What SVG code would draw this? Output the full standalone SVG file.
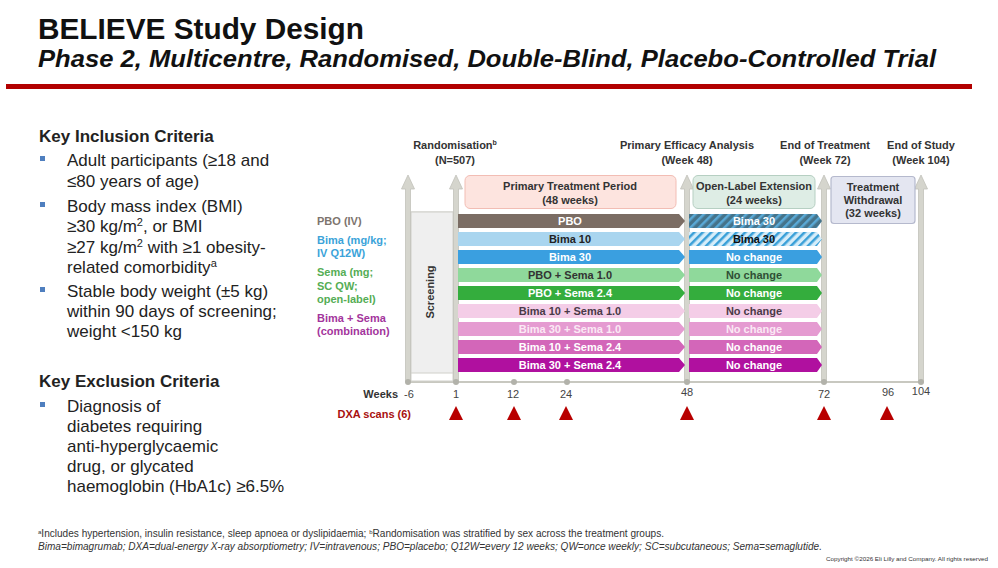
<svg xmlns="http://www.w3.org/2000/svg" width="998" height="568" viewBox="0 0 998 568">
<style>
text{font-family:"Liberation Sans",Arial,sans-serif;}
.t1{font-size:29px;font-weight:bold;fill:#111;}
.t2{font-size:23px;font-weight:bold;font-style:italic;fill:#111;}
.h{font-size:17px;font-weight:bold;fill:#222;}
.b{font-size:17px;fill:#222;}
.lab{font-size:11px;font-weight:bold;fill:#333;}
.red{fill:#a80f0f;}
.grp{font-size:11px;font-weight:bold;}
.bar{font-size:11px;font-weight:bold;text-anchor:middle;}
.w{fill:#fff;}
.num{font-size:11px;fill:#444;text-anchor:middle;}
.fn{font-size:10px;fill:#333;}
.arrow{fill:#d5d5cd;stroke:#c2c2ba;stroke-width:0.8;}
.bul{fill:#4f7fbf;}
.tri{fill:#b80000;}
.dot{fill:#b2b2aa;}
</style>
<defs>
<pattern id="hatchDark" width="6" height="6" patternUnits="userSpaceOnUse" patternTransform="rotate(45)">
<rect width="6" height="6" fill="#45738a"/>
<rect width="2.5" height="6" fill="#5aa9d6"/>
</pattern>
<pattern id="hatchLight" width="6" height="6" patternUnits="userSpaceOnUse" patternTransform="rotate(45)">
<rect width="6" height="6" fill="#d6edf9"/>
<rect width="2.5" height="6" fill="#3aa0d8"/>
</pattern>
</defs>
<rect width="998" height="568" fill="#fff"/>

<!-- Title -->
<g id="title">
<text class="t1" x="38" y="39" textLength="326" lengthAdjust="spacingAndGlyphs">BELIEVE Study Design</text>
<text class="t2" x="38" y="67" textLength="898" lengthAdjust="spacingAndGlyphs">Phase 2, Multicentre, Randomised, Double-Blind, Placebo-Controlled Trial</text>
<rect x="6" y="84" width="966" height="5" fill="#b20000"/>
</g>

<!-- Inclusion criteria -->
<g id="inclusion">
<text class="h" x="39" y="142">Key Inclusion Criteria</text>
<rect class="bul" x="40" y="156" width="5" height="5"/>
<text class="b" x="67" y="166">Adult participants (≥18 and</text>
<text class="b" x="67" y="187">≤80 years of age)</text>
<rect class="bul" x="40" y="202" width="5" height="5"/>
<text class="b" x="67" y="212">Body mass index (BMI)</text>
<text class="b" x="67" y="232">≥30 kg/m<tspan font-size="11" dy="-6">2</tspan><tspan dy="6">, or BMI</tspan></text>
<text class="b" x="67" y="253">≥27 kg/m<tspan font-size="11" dy="-6">2</tspan><tspan dy="6"> with ≥1 obesity-</tspan></text>
<text class="b" x="67" y="273">related comorbidity<tspan font-size="11" dy="-6">a</tspan></text>
<rect class="bul" x="40" y="287" width="5" height="5"/>
<text class="b" x="67" y="297">Stable body weight (±5 kg)</text>
<text class="b" x="67" y="317">within 90 days of screening;</text>
<text class="b" x="67" y="337">weight &lt;150 kg</text>
</g>

<!-- Exclusion criteria -->
<g id="exclusion">
<text class="h" x="39" y="387">Key Exclusion Criteria</text>
<rect class="bul" x="40" y="402" width="5" height="5"/>
<text class="b" x="67" y="412">Diagnosis of</text>
<text class="b" x="67" y="432">diabetes requiring</text>
<text class="b" x="67" y="452">anti-hyperglycaemic</text>
<text class="b" x="67" y="472">drug, or glycated</text>
<text class="b" x="67" y="492">haemoglobin (HbA1c) ≥6.5%</text>
</g>

<!-- Timeline labels -->
<g id="milestones">
<text class="lab" x="455" y="149" text-anchor="middle">Randomisation<tspan font-size="7" dy="-4">b</tspan></text>
<text class="lab" x="455" y="164" text-anchor="middle">(N=507)</text>
<text class="lab" x="687" y="149" text-anchor="middle">Primary Efficacy Analysis</text>
<text class="lab" x="687" y="164" text-anchor="middle">(Week 48)</text>
<text class="lab" x="825" y="149" text-anchor="middle">End of Treatment</text>
<text class="lab" x="825" y="164" text-anchor="middle">(Week 72)</text>
<text class="lab" x="921" y="149" text-anchor="middle">End of Study</text>
<text class="lab" x="921" y="164" text-anchor="middle">(Week 104)</text>
</g>

<!-- Axis -->
<g id="axis">
<line x1="408" y1="382" x2="921" y2="382" stroke="#c8c8c0" stroke-width="2"/>
</g>

<!-- Screening -->
<g id="screening">
<rect x="411" y="212" width="42" height="169" fill="#fff" stroke="#d0d0ca" stroke-width="1"/>
<rect x="411" y="212" width="42" height="161" fill="#efefef" stroke="#d0d0ca" stroke-width="1"/>
<text class="lab" transform="translate(434,292) rotate(-90)" text-anchor="middle">Screening</text>
</g>

<!-- Vertical arrows -->
<g id="connectors">
<path class="arrow" d="M405.5,189 L401.5,189 L408,175 L414.5,189 L410.5,189 L410.5,382 L405.5,382 Z"/>
<path class="arrow" d="M453.5,189 L449.5,189 L456,175 L462.5,189 L458.5,189 L458.5,382 L453.5,382 Z"/>
<path class="arrow" d="M684.5,189 L680.5,189 L687,175 L693.5,189 L689.5,189 L689.5,382 L684.5,382 Z"/>
<path class="arrow" d="M821.5,189 L817.5,189 L824,175 L830.5,189 L826.5,189 L826.5,382 L821.5,382 Z"/>
<path class="arrow" d="M918.5,189 L914.5,189 L921,175 L927.5,189 L923.5,189 L923.5,382 L918.5,382 Z"/>
</g>

<g id="axis-dots">
<circle class="dot" cx="408" cy="382" r="3"/>
<circle class="dot" cx="456" cy="382" r="3"/>
<circle class="dot" cx="514" cy="382" r="3"/>
<circle class="dot" cx="567" cy="382" r="3"/>
<circle class="dot" cx="687" cy="382" r="3"/>
<circle class="dot" cx="824" cy="382" r="3"/>
<circle class="dot" cx="921" cy="382" r="3"/>
</g>

<!-- Period boxes -->
<g id="primary-period">
<rect x="465" y="175.5" width="211" height="33" rx="5" fill="#fde4df" stroke="#f2bdb4" stroke-width="1"/>
<text class="lab" x="570" y="190" text-anchor="middle">Primary Treatment Period</text>
<text class="lab" x="570" y="204" text-anchor="middle">(48 weeks)</text>
</g>
<g id="ole-period">
<rect x="693" y="175.5" width="122" height="33" rx="5" fill="#deede5" stroke="#b6cfc2" stroke-width="1"/>
<text class="lab" x="754" y="190" text-anchor="middle">Open-Label Extension</text>
<text class="lab" x="754" y="204" text-anchor="middle">(24 weeks)</text>
</g>
<g id="withdrawal-period">
<rect x="831" y="176.5" width="84" height="47" rx="3" fill="#e4e6f1" stroke="#b5b9cd" stroke-width="1.2"/>
<text class="lab" x="873" y="191" text-anchor="middle">Treatment</text>
<text class="lab" x="873" y="204" text-anchor="middle">Withdrawal</text>
<text class="lab" x="873" y="217" text-anchor="middle">(32 weeks)</text>
</g>

<!-- Group labels -->
<g id="group-labels">
<text class="grp" x="317" y="225" fill="#7d746e">PBO (IV)</text>
<text class="grp" x="317" y="244" fill="#3ba3d9">Bima (mg/kg;</text>
<text class="grp" x="317" y="257" fill="#3ba3d9">IV Q12W)</text>
<text class="grp" x="317" y="276" fill="#55ad55">Sema (mg;</text>
<text class="grp" x="317" y="290" fill="#55ad55">SC QW;</text>
<text class="grp" x="317" y="303" fill="#55ad55">open-label)</text>
<text class="grp" x="317" y="322" fill="#a3359c">Bima + Sema</text>
<text class="grp" x="317" y="335" fill="#a3359c">(combination)</text>
</g>

<!-- Treatment arms -->
<g id="arm-pbo">
<path d="M458,214 h221 l6,7 l-6,7 h-221 z" fill="#7b6d64"/>
<text class="bar w" x="570" y="225">PBO</text>
<path d="M689,214 h128 l5,7 l-5,7 h-128 z" fill="url(#hatchDark)"/>
<text class="bar w" x="754" y="225">Bima 30</text>
</g>
<g id="arm-bima10">
<path d="M458,232 h221 l6,7 l-6,7 h-221 z" fill="#a9d5ef"/>
<text class="bar" x="570" y="243" fill="#222">Bima 10</text>
<path d="M689,232 h128 l5,7 l-5,7 h-128 z" fill="url(#hatchLight)"/>
<text class="bar" x="754" y="243" fill="#111">Bima 30</text>
</g>
<g id="arm-bima30">
<path d="M458,250 h221 l6,7 l-6,7 h-221 z" fill="#3a9fe0"/>
<text class="bar w" x="570" y="261">Bima 30</text>
<path d="M689,250 h128 l5,7 l-5,7 h-128 z" fill="#3a9fe0"/>
<text class="bar w" x="754" y="261">No change</text>
</g>
<g id="arm-pbo-sema10">
<path d="M458,268 h221 l6,7 l-6,7 h-221 z" fill="#8fd99b"/>
<text class="bar" x="570" y="279" fill="#333">PBO + Sema 1.0</text>
<path d="M689,268 h128 l5,7 l-5,7 h-128 z" fill="#8fd99b"/>
<text class="bar" x="754" y="279" fill="#2f4f35">No change</text>
</g>
<g id="arm-pbo-sema24">
<path d="M458,286 h221 l6,7 l-6,7 h-221 z" fill="#34ad3d"/>
<text class="bar w" x="570" y="297">PBO + Sema 2.4</text>
<path d="M689,286 h128 l5,7 l-5,7 h-128 z" fill="#34ad3d"/>
<text class="bar w" x="754" y="297">No change</text>
</g>
<g id="arm-bima10-sema10">
<path d="M458,304 h221 l6,7 l-6,7 h-221 z" fill="#f4cde7"/>
<text class="bar" x="570" y="315" fill="#4a3a48">Bima 10 + Sema 1.0</text>
<path d="M689,304 h128 l5,7 l-5,7 h-128 z" fill="#f4cde7"/>
<text class="bar" x="754" y="315" fill="#4a3a48">No change</text>
</g>
<g id="arm-bima30-sema10">
<path d="M458,322 h221 l6,7 l-6,7 h-221 z" fill="#e59bd1"/>
<text class="bar" x="570" y="333" fill="#fbe9f5">Bima 30 + Sema 1.0</text>
<path d="M689,322 h128 l5,7 l-5,7 h-128 z" fill="#e59bd1"/>
<text class="bar" x="754" y="333" fill="#fbe9f5">No change</text>
</g>
<g id="arm-bima10-sema24">
<path d="M458,340 h221 l6,7 l-6,7 h-221 z" fill="#d366b9"/>
<text class="bar w" x="570" y="351">Bima 10 + Sema 2.4</text>
<path d="M689,340 h128 l5,7 l-5,7 h-128 z" fill="#d366b9"/>
<text class="bar w" x="754" y="351">No change</text>
</g>
<g id="arm-bima30-sema24">
<path d="M458,358 h221 l6,7 l-6,7 h-221 z" fill="#b0109f"/>
<text class="bar w" x="570" y="369">Bima 30 + Sema 2.4</text>
<path d="M689,358 h128 l5,7 l-5,7 h-128 z" fill="#b0109f"/>
<text class="bar w" x="754" y="369">No change</text>
</g>

<!-- Weeks -->
<g id="weeks">
<text class="lab" x="398" y="398" text-anchor="end">Weeks</text>
<text class="num" x="409" y="398">-6</text>
<text class="num" x="456" y="398">1</text>
<text class="num" x="513" y="398">12</text>
<text class="num" x="566" y="398">24</text>
<text class="num" x="687" y="396">48</text>
<text class="num" x="824" y="398">72</text>
<text class="num" x="888" y="396">96</text>
<text class="num" x="921" y="395">104</text>
</g>

<!-- DXA scans -->
<g id="dxa">
<text class="lab red" x="411" y="418" text-anchor="end">DXA scans (6)</text>
<polygon class="tri" points="449,420 456,406 463,420"/>
<polygon class="tri" points="507,420 514,406 521,420"/>
<polygon class="tri" points="559,420 566,406 573,420"/>
<polygon class="tri" points="680,420 687,406 694,420"/>
<polygon class="tri" points="817,420 824,406 831,420"/>
<polygon class="tri" points="880,420 887,406 894,420"/>
</g>

<!-- Footnotes -->
<g id="footnotes">
<text class="fn" x="38" y="537" textLength="626" lengthAdjust="spacingAndGlyphs"><tspan font-size="6" dy="-3">a</tspan><tspan dy="3">Includes hypertension, insulin resistance, sleep apnoea or dyslipidaemia; </tspan><tspan font-size="6" dy="-3">b</tspan><tspan dy="3">Randomisation was stratified by sex across the treatment groups.</tspan></text>
<text class="fn" x="38" y="550" font-style="italic" textLength="784" lengthAdjust="spacingAndGlyphs">Bima=bimagrumab; DXA=dual-energy X-ray absorptiometry; IV=intravenous; PBO=placebo; Q12W=every 12 weeks; QW=once weekly; SC=subcutaneous; Sema=semaglutide.</text>
<text x="826" y="561" font-size="6" fill="#333" textLength="162" lengthAdjust="spacingAndGlyphs">Copyright ©2026 Eli Lilly and Company. All rights reserved</text>
</g>
</svg>
